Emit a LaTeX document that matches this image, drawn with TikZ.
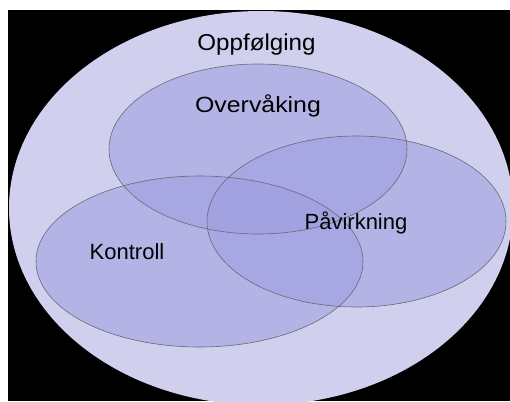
\documentclass[tikz,border=0pt]{standalone}
\usepackage{fontspec}
\setmainfont{Liberation Sans}
\usetikzlibrary{shapes.geometric}
\definecolor{outerlav}{RGB}{208,208,238}
\definecolor{innerfill}{RGB}{160,160,225}
\definecolor{edgegray}{RGB}{105,105,115}
\tikzset{
  setfill/.style={ellipse, inner sep=0pt, outer sep=0pt, fill=innerfill, fill opacity=0.6},
  outl/.style={draw=edgegray, line width=0.6pt},
  lbl/.style={inner sep=0pt, anchor=base, text=black, font=\fontsize{22}{26}\selectfont}
}
\begin{document}
\begin{tikzpicture}[x=1pt,y=-1pt]
\useasboundingbox (0,0) rectangle (510,401);
\fill[white] (0,0) rectangle (510,401);
\fill[black] (8,10) rectangle (510,401);
\begin{scope}
  \clip (8,10) rectangle (510,401);
  \fill[outerlav] (261,208) ellipse [x radius=252pt, y radius=197pt];
\end{scope}
\node[setfill, minimum width=298pt, minimum height=170pt] (ov) at (258,149) {};
\node[setfill, minimum width=299pt, minimum height=171pt] (pa) at (356.5,221.5) {};
\node[setfill, minimum width=327pt, minimum height=171pt] (ko) at (199.5,261.5) {};
\draw[outl] (ov.center) ellipse [x radius=149pt, y radius=85pt];
\draw[outl] (pa.center) ellipse [x radius=149.5pt, y radius=85.5pt];
\draw[outl] (ko.center) ellipse [x radius=163.5pt, y radius=85.5pt];
\node[lbl, font=\fontsize{23}{27}\selectfont] (tOpp) at (256.5,50.5) {\scalebox{1.05}[1]{Oppfølging}};
\node[lbl] (tOv) at (258,112.5) {\scalebox{1.13}[1]{Overvåking}};
\node[lbl] (tPa) at (356,229) {Påvirkning};
\node[lbl] (tKo) at (127,259) {Kontroll};
\end{tikzpicture}
\end{document}
